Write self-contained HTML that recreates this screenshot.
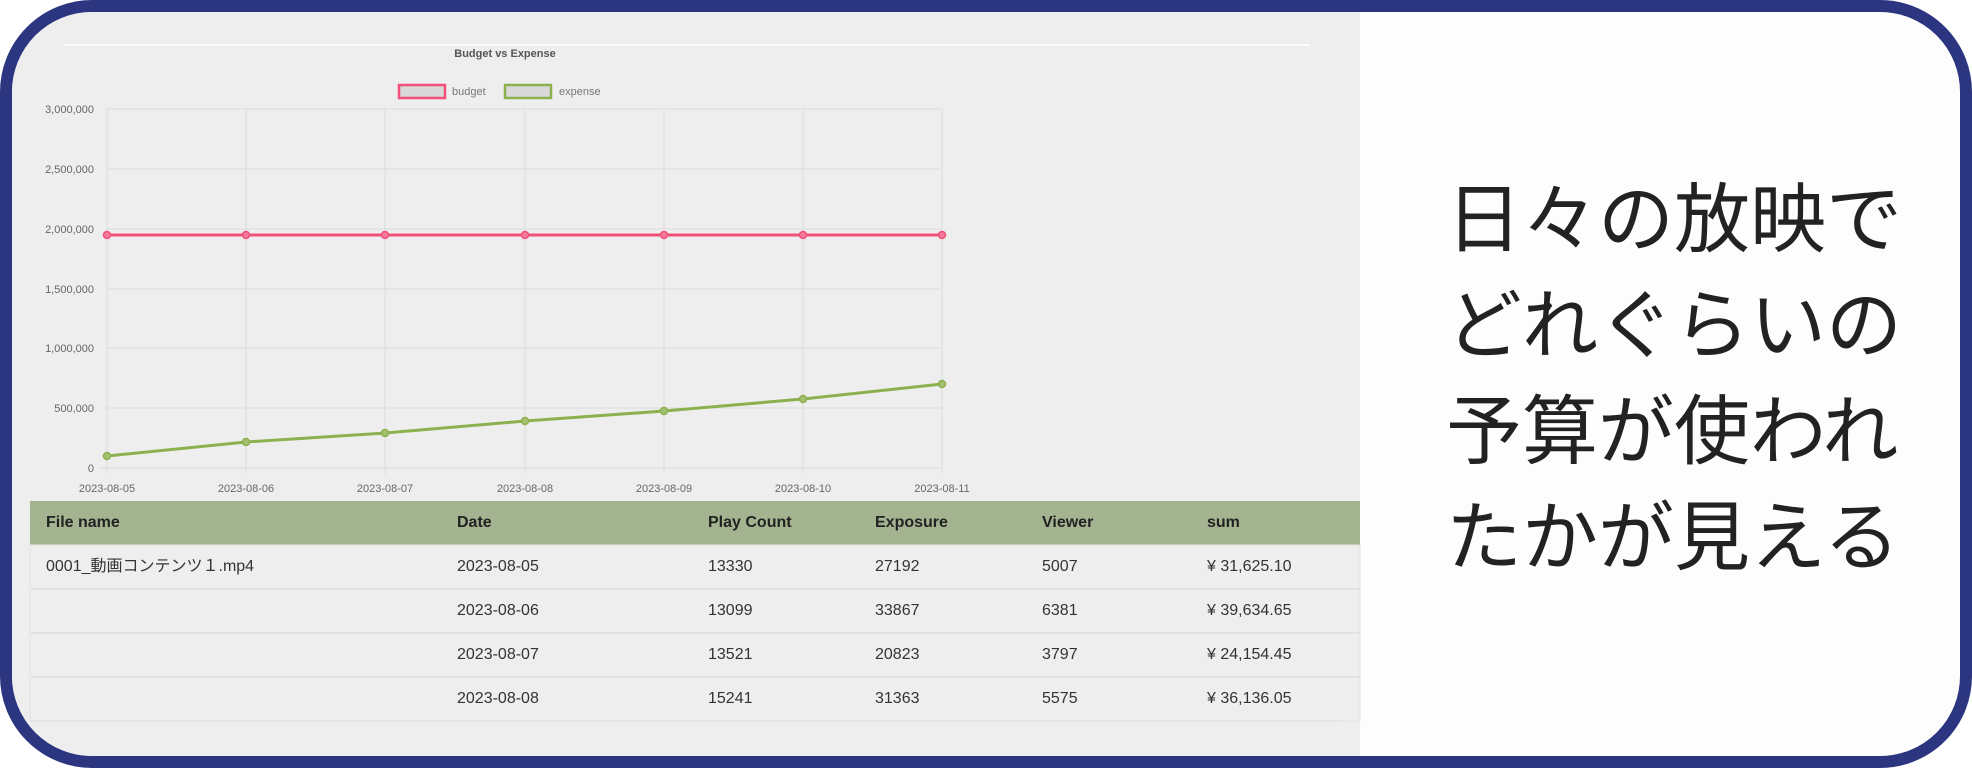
<!DOCTYPE html>
<html><head><meta charset="utf-8"><style>
html,body{margin:0;padding:0;background:#fff;}
#f{position:absolute;left:0;top:0;width:1972px;height:768px;box-sizing:border-box;border:12px solid #2b3580;border-radius:92px;overflow:hidden;background:#fdfdfd;}
#panel{position:absolute;left:0;top:0;width:1348px;height:744px;background:#efeeee;}
#jp{position:absolute;left:1434px;top:148px;font-family:"Noto Sans CJK JP",sans-serif;font-size:76px;line-height:106px;color:#222;font-weight:400;white-space:nowrap;}
.th{position:absolute;top:489px;height:44px;line-height:44px;font-size:16px;font-weight:bold;color:#222;font-family:"Liberation Sans","Noto Sans CJK JP",sans-serif;}
.td{position:absolute;font-size:16px;color:#333;font-family:"Liberation Sans","Noto Sans CJK JP",sans-serif;}
</style></head><body>
<div id="f">
<div id="panel"></div>
<svg style="position:absolute;left:-12px;top:-12px" width="1972" height="768">
<line x1="64" y1="45" x2="1310" y2="45" stroke="#fff" stroke-width="1.5"/>
<text x="505" y="57" font-family="Liberation Sans" font-size="11" font-weight="bold" fill="#555" text-anchor="middle">Budget vs Expense</text>
<rect x="399" y="85" width="46" height="13" fill="#d8d8d8" stroke="#f0507a" stroke-width="2.5"/>
<text x="452" y="95" font-family="Liberation Sans" font-size="11" fill="#777">budget</text>
<rect x="505" y="85" width="46" height="13" fill="#d8d8d8" stroke="#8db04f" stroke-width="2.5"/>
<text x="559" y="95" font-family="Liberation Sans" font-size="11" fill="#777">expense</text>
<g stroke="#dcdcdc" stroke-width="1">
<line x1="107" y1="109" x2="942" y2="109"/><line x1="107" y1="169" x2="942" y2="169"/><line x1="107" y1="229" x2="942" y2="229"/><line x1="107" y1="289" x2="942" y2="289"/><line x1="107" y1="348" x2="942" y2="348"/><line x1="107" y1="408" x2="942" y2="408"/><line x1="100" y1="468" x2="942" y2="468"/>
<line x1="107" y1="109" x2="107" y2="474"/><line x1="246" y1="109" x2="246" y2="474"/><line x1="385" y1="109" x2="385" y2="474"/><line x1="525" y1="109" x2="525" y2="474"/><line x1="664" y1="109" x2="664" y2="474"/><line x1="803" y1="109" x2="803" y2="474"/><line x1="942" y1="109" x2="942" y2="474"/>
</g>
<g font-family="Liberation Sans" font-size="11" fill="#666" text-anchor="end">
<text x="94" y="113">3,000,000</text><text x="94" y="173">2,500,000</text><text x="94" y="233">2,000,000</text><text x="94" y="293">1,500,000</text><text x="94" y="352">1,000,000</text><text x="94" y="412">500,000</text><text x="94" y="472">0</text>
</g>
<g font-family="Liberation Sans" font-size="11" fill="#666" text-anchor="middle">
<text x="107" y="492">2023-08-05</text><text x="246" y="492">2023-08-06</text><text x="385" y="492">2023-08-07</text><text x="525" y="492">2023-08-08</text><text x="664" y="492">2023-08-09</text><text x="803" y="492">2023-08-10</text><text x="942" y="492">2023-08-11</text>
</g>
<polyline points="107,235 246,235 385,235 525,235 664,235 803,235 942,235" fill="none" stroke="#f0507a" stroke-width="3"/>
<g fill="#f47a9a" stroke="#f0507a" stroke-width="1.5"><circle cx="107" cy="235" r="3.5"/><circle cx="246" cy="235" r="3.5"/><circle cx="385" cy="235" r="3.5"/><circle cx="525" cy="235" r="3.5"/><circle cx="664" cy="235" r="3.5"/><circle cx="803" cy="235" r="3.5"/><circle cx="942" cy="235" r="3.5"/></g>
<polyline points="107,456 246,442 385,433 525,421 664,411 803,399 942,384" fill="none" stroke="#8db04f" stroke-width="3"/>
<g fill="#a5c070" stroke="#8db04f" stroke-width="1.5"><circle cx="107" cy="456" r="3.5"/><circle cx="246" cy="442" r="3.5"/><circle cx="385" cy="433" r="3.5"/><circle cx="525" cy="421" r="3.5"/><circle cx="664" cy="411" r="3.5"/><circle cx="803" cy="399" r="3.5"/><circle cx="942" cy="384" r="3.5"/></g>
<rect x="30" y="501" width="1330" height="44" fill="#a5b490"/>
<g stroke="#dedede" stroke-width="1.5"><line x1="30" y1="589" x2="1360" y2="589"/><line x1="30" y1="633" x2="1360" y2="633"/><line x1="30" y1="677" x2="1360" y2="677"/><line x1="30" y1="721" x2="1340" y2="721"/></g>
<rect x="30" y="545" width="1330" height="176" fill="none" stroke="#e2e2e2" stroke-width="1"/>
</svg>
<div class="th" style="left:34px">File name</div>
<div class="th" style="left:445px">Date</div>
<div class="th" style="left:696px">Play Count</div>
<div class="th" style="left:863px">Exposure</div>
<div class="th" style="left:1030px">Viewer</div>
<div class="th" style="left:1195px">sum</div>
<div class="td" style="left:34px;top:533px;line-height:44px">0001_動画コンテンツ１.mp4</div>
<div class="td" style="left:445px;top:533px;line-height:44px">2023-08-05<br>2023-08-06<br>2023-08-07<br>2023-08-08</div>
<div class="td" style="left:696px;top:533px;line-height:44px">13330<br>13099<br>13521<br>15241</div>
<div class="td" style="left:863px;top:533px;line-height:44px">27192<br>33867<br>20823<br>31363</div>
<div class="td" style="left:1030px;top:533px;line-height:44px">5007<br>6381<br>3797<br>5575</div>
<div class="td" style="left:1195px;top:533px;line-height:44px">¥ 31,625.10<br>¥ 39,634.65<br>¥ 24,154.45<br>¥ 36,136.05</div>
<div id="jp">日々の放映で<br>どれぐらいの<br>予算が使われ<br>たかが見える</div>
</div>
</body></html>
